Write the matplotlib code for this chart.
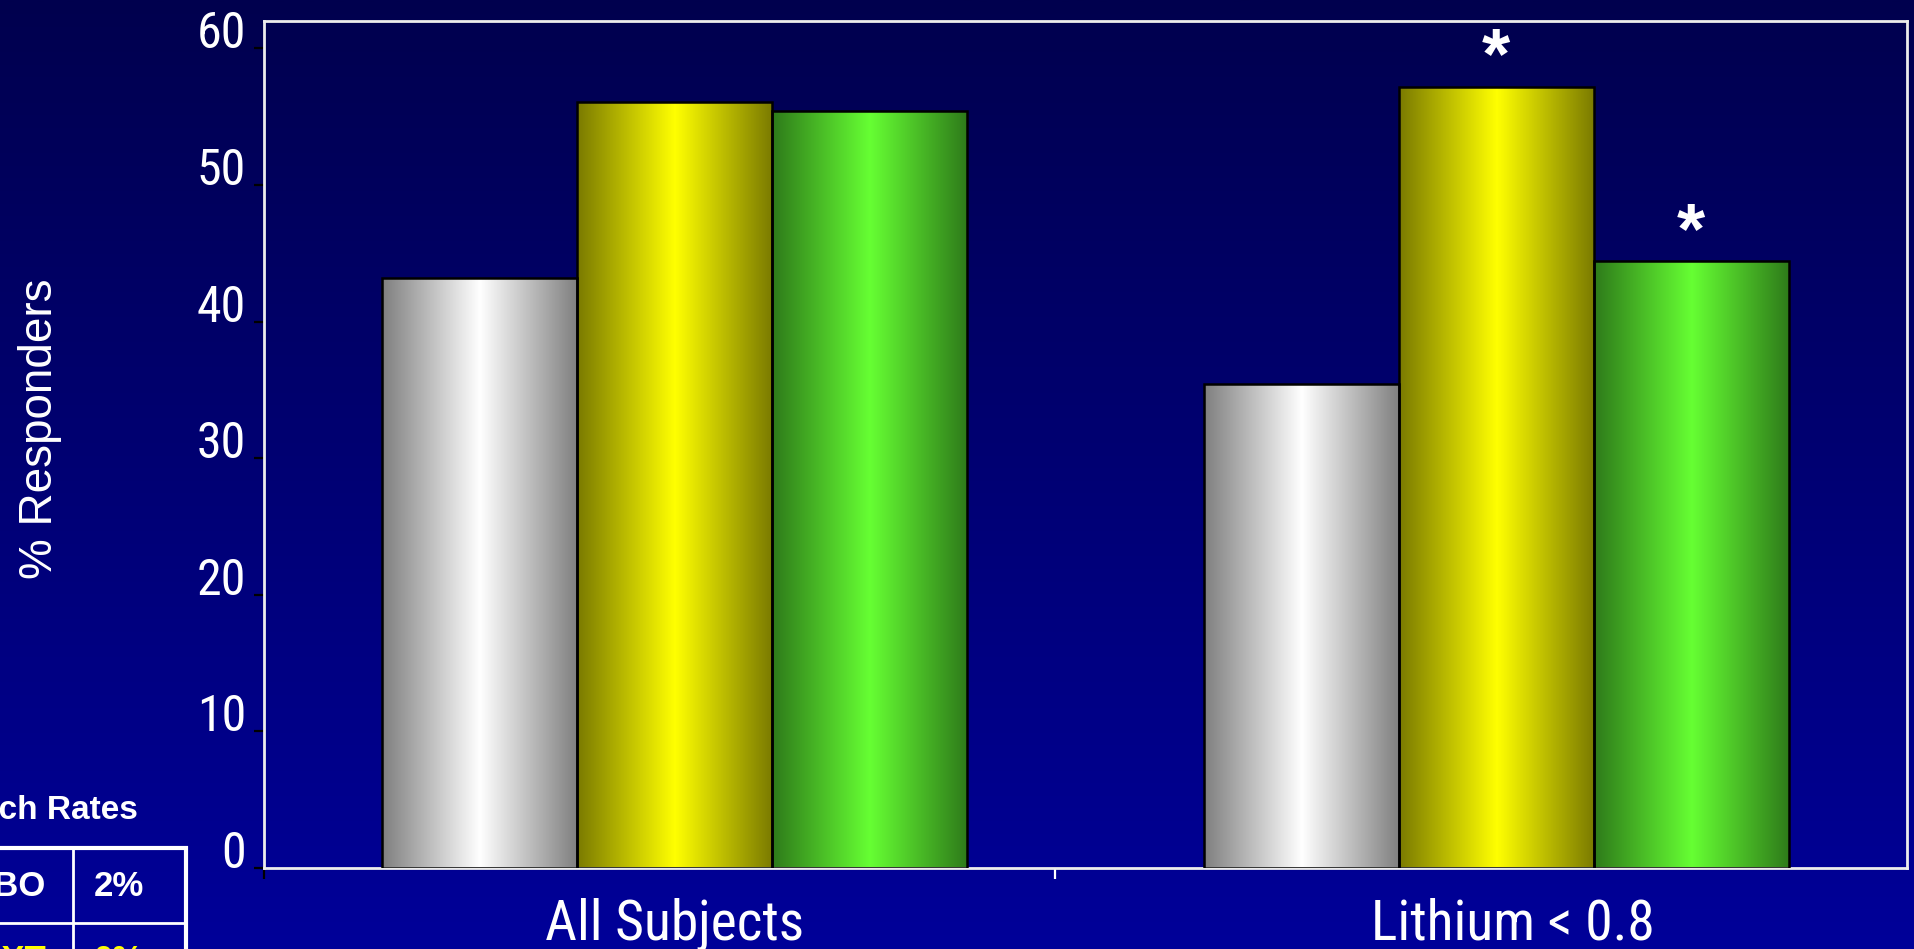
import numpy as np
import matplotlib
matplotlib.use("Agg")
import matplotlib.pyplot as plt
from matplotlib.colors import to_rgb
from matplotlib.transforms import blended_transform_factory

# ---- data ----
categories = ["All Subjects", "Lithium < 0.8"]
pct_gray = [43.2, 35.4]
pct_yellow = [56.1, 57.2]
pct_green = [55.4, 44.4]
star_yellow = [False, True]
star_green = [False, True]
yticks = [0, 10, 20, 30, 40, 50, 60]
switch_groups = ["PBO", "PRXT"]
switch_rates = ["2%", "0%"]

# ---- style ----
plt.rcParams["ytick.alignment"] = "baseline"
NARROW = ["Liberation Sans Narrow", "Roboto Condensed", "DejaVu Sans"]
SANS = ["Liberation Sans", "DejaVu Sans"]

W, H, DPI = 1915, 949, 100
fig = plt.figure(figsize=(W / DPI, H / DPI), dpi=DPI)

# background: vertical navy gradient, also hosts the switch-rate table
bg = fig.add_axes([0, 0, 1, 1], zorder=0)
bg.set_xlim(0, W)
bg.set_ylim(H, 0)
bg.axis("off")
t = np.linspace(0, 1, 256)[:, None, None]
c_top = np.array(to_rgb("#00004e"))
c_bot = np.array(to_rgb("#000099"))
bg.imshow(c_top + (c_bot - c_top) * t, extent=[0, W, H, 0], aspect="auto",
          interpolation="bilinear")

# main axes
L, R, T, B = 264, 1907, 21, 868
ax = fig.add_axes([L / W, 1 - B / H, (R - L) / W, (B - T) / H], zorder=1)
ax.patch.set_alpha(0)

x = np.arange(len(categories))
width = 0.2375
series = [
    (pct_gray, -width, "#ffffff", "#7f7f7f"),
    (pct_yellow, 0.0, "#ffff00", "#7a7a00"),
    (pct_green, width, "#66ff33", "#2e7a1a"),
]


def cylinder(mid, edge, n=256):
    s = np.abs(np.linspace(-1, 1, n))[None, :, None]
    m = np.array(to_rgb(mid))
    e = np.array(to_rgb(edge))
    return m + (e - m) * s


for vals, off, mid, edge in series:
    bars = ax.bar(x + off, vals, width, facecolor="none", edgecolor="black",
                  linewidth=1.8, zorder=3)
    grad = cylinder(mid, edge)
    for b in bars:
        x0, y0, w, h = b.get_x(), b.get_y(), b.get_width(), b.get_height()
        im = ax.imshow(grad, extent=[x0, x0 + w, y0, y0 + h], aspect="auto",
                       interpolation="bilinear", zorder=2)
        im.set_clip_path(b)

ax.set_xlim(-0.5, 1.5)
ax.set_ylim(0, 62)

# significance markers
for vals, off, stars in [(pct_yellow, 0.0, star_yellow), (pct_green, width, star_green)]:
    for xi, v, s in zip(x, vals, stars):
        if s:
            ax.text(xi + off, v + 0.6, "*", ha="center", va="baseline",
                    fontsize=52, fontweight="bold", color="white", family=SANS)

# axes frame and ticks
for sp in ax.spines.values():
    sp.set_color("#ececec")
    sp.set_linewidth(2)
ax.set_yticks(yticks)
ax.set_yticklabels([str(v) for v in yticks], family=NARROW,
                   fontstretch="condensed")
ax.tick_params(axis="y", direction="out", length=7, width=1.6, color="black",
               labelcolor="white", labelsize=36, pad=6)
ax.set_xticks([-0.5, 0.4625])
ax.set_xticklabels(["", ""])
ax.tick_params(axis="x", direction="out", length=8, width=1.6, color="white")
first = ax.xaxis.get_major_ticks()[0]
first.tick1line.set_markeredgecolor("black")

tr = blended_transform_factory(ax.transData, ax.transAxes)
label_x = [0.0, 1.02]
for lx, cat in zip(label_x, categories):
    ax.text(lx, -0.085, cat, transform=tr, ha="center", va="baseline",
            fontsize=40, color="white", family=NARROW, fontstretch="condensed",
            clip_on=False)

fig.text(40 / W, 1 - 429 / H, "% Responders", rotation=90, ha="center",
         va="center", fontsize=33, color="white", family=SANS)

# switch-rate table (partly outside the slide edge)
bg.text(138, 819, "Switch Rates", ha="right", va="baseline", fontsize=24,
        fontweight="bold", color="white", family=SANS)
bg.plot([-10, 186, 186], [848, 848, 990], color="white", lw=3,
        solid_joinstyle="miter")
bg.plot([73, 73], [848, 990], color="white", lw=2)
bg.plot([-10, 186], [923, 923], color="white", lw=2)
row_colors = ["white", "#ffff00"]
for i, (g, r, c) in enumerate(zip(switch_groups, switch_rates, row_colors)):
    yy = 886 + i * 75
    bg.text(46, yy, g, ha="right", va="center", fontsize=25, fontweight="bold",
            color=c, family=SANS)
    bg.text(119, yy, r, ha="center", va="center", fontsize=25,
            fontweight="bold", color=c, family=SANS)

fig.savefig("out.png", dpi=DPI)
